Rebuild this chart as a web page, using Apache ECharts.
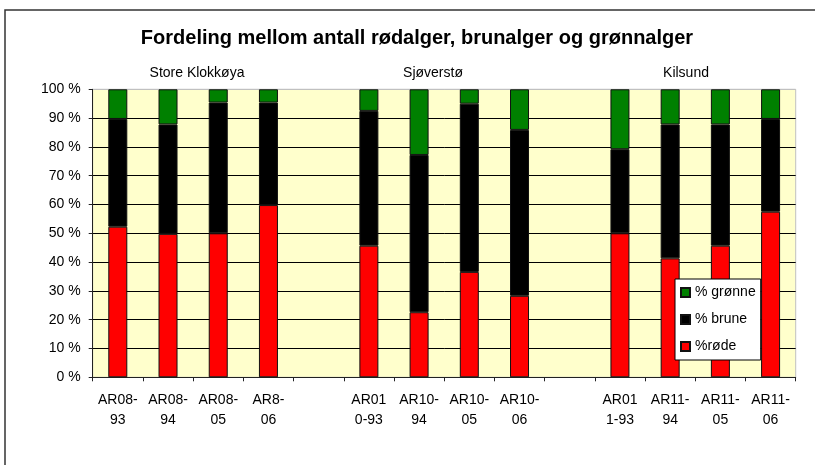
<!DOCTYPE html>
<html>
<head>
<meta charset="utf-8">
<script src="https://cdn.jsdelivr.net/npm/echarts@6/dist/echarts.min.js"></script>
<style>
html,body{margin:0;padding:0;background:#fff;}
#c{width:815px;height:465px;}
</style>
</head>
<body>
<div id="c"></div>
<script>
var categories = ['AR08-\n93','AR08-\n94','AR08-\n05','AR8-\n06','',
                  'AR01\n0-93','AR10-\n94','AR10-\n05','AR10-\n06','',
                  'AR01\n1-93','AR11-\n94','AR11-\n05','AR11-\n06'];
var rode   = [52.3, 49.8, 50.0, 59.8, null, 45.7, 22.6, 36.6, 28.3, null, 50.0, 41.3, 45.7, 57.5];
var brune  = [37.4, 38.0, 45.4, 35.6, null, 46.8, 54.6, 58.4, 57.6, null, 29.2, 46.5, 42.1, 32.2];
var gronne = [10.3, 12.2,  4.6,  4.6, null,  7.5, 22.8,  5.0, 14.1, null, 20.8, 12.2, 12.2, 10.3];
var yTicks = [0,10,20,30,40,50,60,70,80,90,100];
var groupLabels = ['Store Klokkøya','Sjøverstø','Kilsund'];
var titleText = 'Fordeling mellom antall rødalger, brunalger og grønnalger';

var FONT = 'Liberation Sans, Arial, sans-serif';
var chart = echarts.init(document.getElementById('c'), null, {renderer:'canvas'});
var splitColors = yTicks.map(function(v){ return v === 100 ? '#C0C0C0' : '#000000'; });

var barStyle = function(c){ return {color:c, borderColor:'#111', borderWidth:1}; };

chart.setOption({
  animation:false,
  backgroundColor:'#ffffff',
  graphic:[
    {type:'rect', shape:{x:5,y:10,width:900,height:600}, style:{fill:'none', stroke:'#333', lineWidth:1.5}, silent:true},
    {type:'text', x:417, y:38, style:{text:titleText, font:'bold 20px '+FONT, fill:'#000', textAlign:'center', textVerticalAlign:'middle'}},
    {type:'text', x:197, y:73, style:{text:groupLabels[0], font:'14px '+FONT, fill:'#000', textAlign:'center', textVerticalAlign:'middle'}},
    {type:'text', x:433, y:73, style:{text:groupLabels[1], font:'14px '+FONT, fill:'#000', textAlign:'center', textVerticalAlign:'middle'}},
    {type:'text', x:686, y:73, style:{text:groupLabels[2], font:'14px '+FONT, fill:'#000', textAlign:'center', textVerticalAlign:'middle'}}
  ],
  legend:{
    orient:'vertical',
    left:675, top:279,
    data:['% grønne','% brune','%røde'],
    itemWidth:9, itemHeight:9, itemGap:12, itemTextGap:5,
    padding:[6,5,6,5],
    backgroundColor:'#ffffff', borderColor:'#000', borderWidth:1, borderRadius:0,
    icon:'rect',
    textStyle:{fontFamily:FONT, fontSize:14, color:'#000', lineHeight:15}
  },
  grid:{
    left:92.7, right:19.3, top:89.3, bottom:87.7,
    show:true, backgroundColor:'#FFFFCC', borderColor:'#C0C0C0', borderWidth:1
  },
  xAxis:{
    type:'category',
    data:categories,
    axisLine:{lineStyle:{color:'#222', width:1}},
    axisTick:{show:true, length:4, lineStyle:{color:'#222'}, alignWithLabel:false},
    axisLabel:{fontFamily:FONT, fontSize:14, color:'#000', lineHeight:20, margin:13, interval:0}
  },
  yAxis:{
    type:'value', min:0, max:100, interval:10,
    axisLine:{show:true, lineStyle:{color:'#222', width:1}},
    axisTick:{show:true, length:4, lineStyle:{color:'#222'}},
    axisLabel:{fontFamily:FONT, fontSize:14, color:'#000', margin:12, formatter:function(v){return v+' %';}},
    splitLine:{show:true, lineStyle:{color:splitColors, width:1}}
  },
  series:[
    {name:'%røde', type:'bar', stack:'a', data:rode, barWidth:19, itemStyle:barStyle('#FF0000')},
    {name:'% brune', type:'bar', stack:'a', data:brune, barWidth:19, itemStyle:barStyle('#000000')},
    {name:'% grønne', type:'bar', stack:'a', data:gronne, barWidth:19, itemStyle:barStyle('#008000')}
  ]
});
</script>
</body>
</html>
